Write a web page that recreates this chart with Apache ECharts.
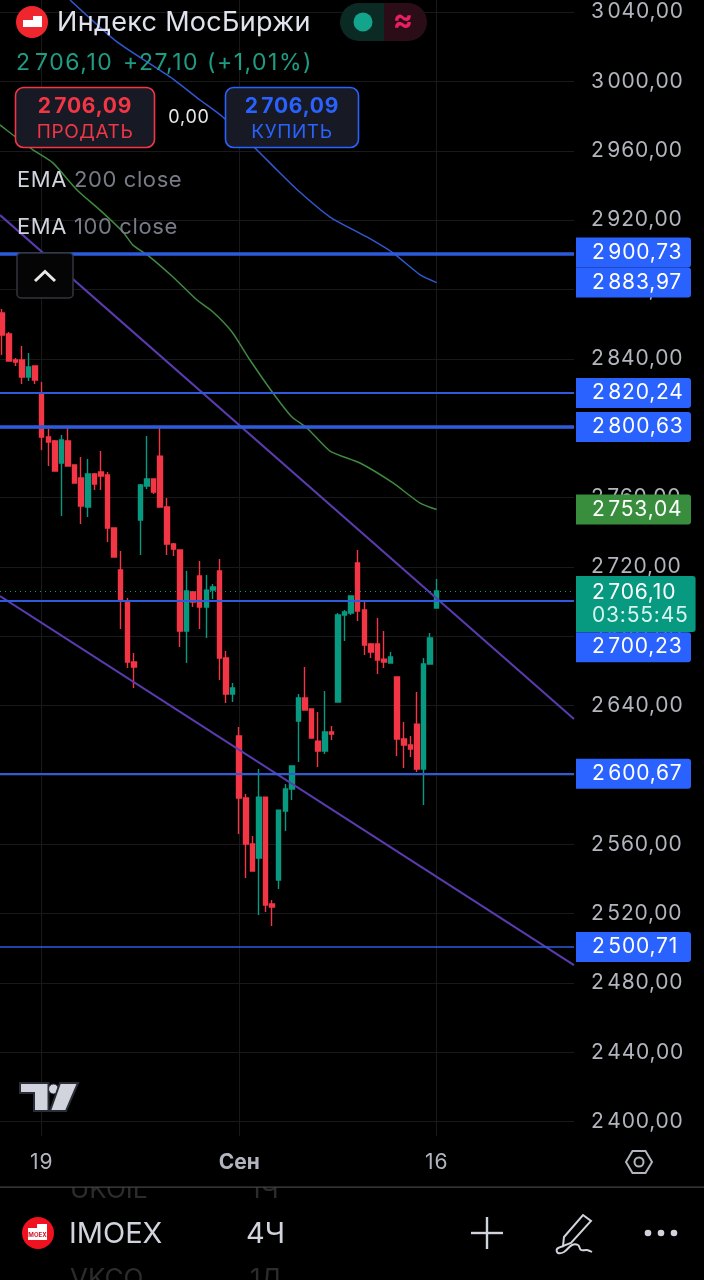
<!DOCTYPE html>
<html><head><meta charset="utf-8">
<style>html,body{margin:0;padding:0;background:#000}#c{width:704px;height:1280px}</style>
<script src="https://cdn.jsdelivr.net/npm/echarts@6/dist/echarts.min.js"></script>
</head><body><div id="c"></div>
<script>
const opens=[2866.4,2854.3,2839.3,2839.3,2829.5,2835.9,2819.7,2794.9,2792.6,2779.9,2792.6,2778.8,2771.3,2754.5,2773.6,2774.7,2773.0,2742.4,2718.2,2700.3,2665.1,2747.0,2766.6,2770.7,2783.9,2754.5,2733.2,2729.7,2683.0,2705.5,2714.7,2696.8,2706.6,2717.6,2667.4,2646.7,2622.4,2586.7,2560.1,2552.1,2587.2,2525.5,2539.4,2579.2,2591.9,2631.1,2644.4,2638.0,2619.5,2613.8,2624.7,2642.0,2692.2,2693.4,2722.2,2695.1,2675.5,2675.5,2666.8,2664.5,2656.5,2620.7,2617.2,2629.3,2603.4,2664.0,2696.3];
const closes=[2853.7,2838.7,2838.2,2829.5,2835.3,2827.8,2794.9,2792.0,2775.3,2793.2,2778.2,2768.4,2755.1,2773.6,2767.8,2772.4,2742.4,2725.7,2700.3,2665.1,2662.2,2767.2,2770.7,2763.2,2754.5,2733.2,2730.3,2683.0,2706.1,2699.7,2696.8,2706.6,2708.4,2667.4,2646.7,2650.1,2586.7,2560.1,2544.6,2587.2,2524.9,2523.8,2579.7,2591.9,2605.1,2644.4,2637.4,2621.3,2613.8,2624.7,2623.6,2692.2,2694.0,2703.2,2694.5,2674.9,2670.9,2666.3,2665.1,2668.0,2620.7,2617.2,2614.9,2603.4,2664.0,2679.0,2706.1];
const lows=[2842.2,2838.7,2835.9,2825.5,2827.2,2825.5,2787.4,2778.2,2775.3,2749.3,2778.2,2768.4,2744.7,2748.8,2764.3,2764.3,2734.3,2725.7,2684.2,2661.7,2650.1,2726.8,2764.9,2762.0,2754.5,2726.8,2726.3,2673.8,2664.5,2696.8,2684.2,2679.0,2701.5,2654.7,2641.5,2642.0,2565.9,2540.5,2544.6,2519.2,2520.9,2512.8,2534.2,2567.6,2585.5,2607.4,2637.4,2621.3,2604.5,2612.0,2620.1,2642.0,2677.2,2692.2,2688.8,2669.2,2667.4,2658.2,2661.7,2664.5,2610.9,2604.0,2610.3,2601.7,2582.6,2664.0,2696.3];
const highs=[2868.7,2855.5,2840.5,2847.4,2843.4,2835.9,2826.6,2799.5,2793.2,2796.1,2800.1,2778.8,2783.4,2782.2,2774.1,2786.8,2774.7,2742.4,2729.1,2702.0,2670.3,2767.8,2795.5,2770.7,2800.1,2759.7,2733.8,2729.7,2717.6,2706.1,2723.4,2715.3,2710.1,2724.5,2671.5,2653.0,2627.6,2589.0,2564.7,2603.4,2587.2,2527.8,2579.7,2594.7,2605.1,2646.7,2662.2,2638.0,2636.3,2648.4,2628.2,2693.4,2695.1,2703.2,2729.7,2700.3,2676.1,2690.5,2683.0,2670.9,2656.5,2630.5,2622.4,2647.8,2667.4,2681.8,2713.0];
const ema200Bars=[10.3,17.44,25.5,30.05,33.5,38.7,41.75,45.2,49.8,55.4,59.4,63.5,66];
const ema200Vals=[3047,3022.8,3002.6,2989.3,2979.5,2960.5,2948.9,2936.2,2921.8,2910.3,2901.0,2888.4,2883.97];
const ema100Bars=[-0.33,1.64,4.68,7.7,11.36,14.86,18.35,19.87,22.45,25.94,29.59,32.02,34.91,37.64,41.13,44.02,46.3,49.8,54.35,59.37,63.47,66];
const ema100Vals=[2974.9,2969.1,2960.5,2953.0,2937.4,2925.8,2913.2,2905.6,2898.7,2887.2,2873.9,2867.0,2855.5,2839.3,2820.3,2806.4,2800.1,2786.8,2779.9,2768.4,2756.8,2753.04];
const trendUpperBars=[-0.33,86.86];
const trendUpperVals=[2922.9,2632.2];
const trendLowerBars=[-0.33,86.86];
const trendLowerVals=[2703.2,2490.3];
const levels=[2900.73,2820.24,2800.63,2700.23,2600.67,2500.71];
const lastEmaValues=[2883.97,2753.04];
const lastPrice=2706.10;
const countdown="03:55:45";
const priceTicks=[2400,2440,2480,2520,2560,2600,2640,2680,2720,2760,2800,2840,2880,2920,2960,3000,3040];
const timeTickBars=[6,36,66];
const timeTickLabels=["19","Сен","16"];

// Tracking for the app's wide-set fonts: canvas letterSpacing, applied to the marked families only.
const fontProp=Object.getOwnPropertyDescriptor(CanvasRenderingContext2D.prototype,'font');
Object.defineProperty(CanvasRenderingContext2D.prototype,'font',{get(){return fontProp.get.call(this);},
  set(v){fontProp.set.call(this,v);
    const m=/(\d+(?:\.\d+)?)px/.exec(v),s=m?+m[1]:12;
    this.letterSpacing=/Noto Sans/.test(v)?(s>=23?'1.5px':'0.8px'):(/Lato/.test(v)?(s>=27?'0.3px':'0.6px'):'0px');}});

const BLUE='#2962ff',GREEN='#089981',RED='#f23645',LINE='#2e5bdc';
const F='Inter';
const NUM='Inter, "Noto Sans"';
const LBL='Inter, Lato';
const fmt=v=>{const s=v.toFixed(2).replace('.',',');return s[0]+'\u200a'+s.slice(1);};
const pair=(a,b)=>a.map((x,i)=>[x,b[i]]);
const levelWidth={2900.73:3.5,2800.63:3.5,2820.24:2,2700.23:2,2600.67:2,2500.71:1.5};
const tagOffset={2900.73:[0,-1],2700.23:[0,46]};
const tag=(bg,extra)=>Object.assign({show:true,position:'end',distance:2,color:'#fff',fontFamily:NUM,fontSize:21,lineHeight:20,width:89,
  backgroundColor:bg,borderRadius:[0,3,3,0],padding:[5,10,5,16],formatter:p=>fmt(p.value)},extra||{});
const levelData=levels.map(v=>({yAxis:v,lineStyle:{color:LINE,width:levelWidth[v],type:'solid'},
  label:tag(BLUE,{offset:tagOffset[v]||[0,0]})}));
const tagLine={color:'rgba(0,0,0,0)',width:1,type:'solid'};
levelData.push({yAxis:lastEmaValues[0],lineStyle:tagLine,label:tag(BLUE)});
levelData.push({yAxis:lastEmaValues[1],lineStyle:tagLine,label:tag('#388e3c')});
levelData.push({yAxis:lastPrice,lineStyle:{color:GREEN,width:1.2,type:[1,4]},
  label:{show:true,position:'end',distance:2,offset:[0,13],backgroundColor:GREEN,borderRadius:[0,3,3,0],padding:[5,7,5,16],
    formatter:p=>'{a|'+fmt(p.value)+'}\n{b|'+countdown+'}',
    rich:{a:{color:'#fff',fontFamily:NUM,fontSize:21,lineHeight:23},b:{color:'#d5f5ee',fontFamily:NUM,fontSize:21,lineHeight:23}}}});
const lineSeries=(d,color,w,smooth)=>({type:'line',data:d,symbol:'none',silent:true,smooth:smooth||false,lineStyle:{color,width:w},z:3});

const txt=(text,x,y,fill,size,weight,align,fam)=>({type:'text',z:100,style:{text,x,y:y+1,fill,font:(weight||400)+' '+size+'px '+(fam||LBL),textAlign:align||'left',textVerticalAlign:'middle'}});
const rect=(x,y,w,h,fill,stroke,r,lw,z)=>({type:'rect',z:z||100,shape:{x,y,width:w,height:h,r:r||0},style:{fill,stroke:stroke||null,lineWidth:lw||0}});
const gfx=[
 {type:'circle',z:100,shape:{cx:32,cy:22,r:16},style:{fill:'#f0262e'}},
 {type:'polygon',z:101,shape:{points:[[23,20],[33,20],[33,16],[42,16],[42,27],[23,27]]},style:{fill:'#fff'}},
 txt('Индекс МосБиржи',57,22,'#e0e3eb',27),
 rect(340,3,44,38,'#0b2a24',null,[19,0,0,19]),
 rect(384,3,43,38,'#2b0d18',null,[0,19,19,0]),
 {type:'circle',z:101,shape:{cx:363,cy:22,r:9.5},style:{fill:'#12a58c'}},
 txt('≈',403,20,'#e91e63',30,700,'center',F),
 txt(fmt(lastPrice),16,62,'#1f9d84',23,400,'left',NUM),
 txt('+27,10 (+1,01%)',123,62,'#1f9d84',23,400,'left',NUM),
 rect(15.5,87.5,139,60,'#171a24',RED,8,1.6),
 txt('2\u200a706,09',85,106,RED,21,700,'center',NUM),
 txt('ПРОДАТЬ',85,131,RED,19,400,'center'),
 txt('0,00',189,116.5,'#e8e8e8',18,400,'center',NUM),
 rect(225.5,87.5,133,60,'#171a24',BLUE,8,1.6),
 txt('2\u200a706,09',292,106,BLUE,21,700,'center',NUM),
 txt('КУПИТЬ',292,131,BLUE,19,400,'center'),
 txt('EMA',17,179,'#d1d4dc',22),
 txt('200 close',74,179,'#787b86',22),
 txt('EMA',17,226,'#d1d4dc',22),
 txt('100 close',74,226,'#787b86',22),
 rect(17,253,56,45,'#050505','#33363e',4,1.5),
 {type:'polyline',z:101,shape:{points:[[35,281],[45,271.5],[55,281]]},style:{fill:null,stroke:'#e8e8e8',lineWidth:3}},
 {type:'polygon',z:100,shape:{points:[[20,1083],[48.5,1083],[48.5,1111],[34,1111],[34,1093],[20,1093]]},style:{fill:'#d1d4dc',stroke:'#2a2e39',lineWidth:2}},
 {type:'circle',z:100,shape:{cx:53.5,cy:1089,r:5},style:{fill:'#d1d4dc',stroke:'#2a2e39',lineWidth:1}},
 {type:'polygon',z:100,shape:{points:[[60,1083],[78,1083],[66,1111],[50,1111]]},style:{fill:'#d1d4dc',stroke:'#2a2e39',lineWidth:2}},
 {type:'polygon',z:100,shape:{points:[[626,1162],[632.5,1151],[645.5,1151],[652,1162],[645.5,1173],[632.5,1173]]},style:{fill:null,stroke:'#b2b5be',lineWidth:2}},
 {type:'circle',z:100,shape:{cx:639,cy:1162,r:4.5},style:{fill:null,stroke:'#b2b5be',lineWidth:2}},
 txt('UKOIL',70,1189,'#2c2c2c',26,400,'left',F),
 txt('1Ч',250,1189,'#2c2c2c',26,400,'left',F),
 rect(0,1175,704,12,'#000',null,0,0,101),
 rect(0,1186.5,704,1.2,'#454545',null,0,0,102),
 txt('VKCO',70,1278,'#2c2c2c',26,400,'left',F),
 txt('1Д',250,1278,'#2c2c2c',26,400,'left',F),
 {type:'circle',z:100,shape:{cx:38,cy:1233,r:16},style:{fill:'#f0121e'}},
 {type:'polygon',z:101,shape:{points:[[28,1228],[37,1228],[37,1224],[47,1224],[47,1240],[28,1240]]},style:{fill:'#fff'}},
 {type:'text',z:102,style:{text:'MOEX',x:37.5,y:1235,fill:'#d01020',font:'700 6px '+F,textAlign:'center',textVerticalAlign:'middle'}},
 txt('IMOEX',69,1233,'#d1d4dc',29,400,'left',F),
 txt('4Ч',246,1233,'#d1d4dc',29,400,'left',F),
 {type:'line',z:100,shape:{x1:471,y1:1233,x2:503,y2:1233},style:{stroke:'#d1d4dc',lineWidth:2.4}},
 {type:'line',z:100,shape:{x1:487,y1:1217,x2:487,y2:1249},style:{stroke:'#d1d4dc',lineWidth:2.4}},
 {type:'polygon',z:100,shape:{points:[[583,1215],[591,1221],[571,1243],[563,1246],[564,1237]]},style:{fill:null,stroke:'#d1d4dc',lineWidth:2}},
 {type:'polyline',z:100,shape:{points:[[564,1246],[557,1249],[558,1253],[564,1252],[572,1245],[578,1245],[581,1250],[587,1250],[592,1252]],smooth:0.4},style:{fill:null,stroke:'#d1d4dc',lineWidth:2}},
 {type:'circle',z:100,shape:{cx:648,cy:1233,r:3.3},style:{fill:'#d1d4dc'}},
 {type:'circle',z:100,shape:{cx:661,cy:1233,r:3.3},style:{fill:'#d1d4dc'}},
 {type:'circle',z:100,shape:{cx:674,cy:1233,r:3.3},style:{fill:'#d1d4dc'}}
];

const chart=echarts.init(document.getElementById('c'),null,{renderer:'canvas'});
const GRIDC='#191919';
chart.setOption({
 animation:false,backgroundColor:'#000',
 grid:{left:0,top:0,width:574,height:1136,containLabel:false},
 xAxis:{type:'value',min:-0.334,max:86.86,
   axisLine:{show:false},axisTick:{show:false,customValues:timeTickBars},
   splitLine:{show:true,lineStyle:{color:GRIDC,width:1}},
   axisLabel:{customValues:timeTickBars,margin:16,fontFamily:NUM,fontSize:21,color:'#b2b5be',hideOverlap:false,showMinLabel:true,showMaxLabel:true,
     formatter:v=>{const t=timeTickLabels[timeTickBars.indexOf(v)];return t==='Сен'?'{b|'+t+'}':t;},
     rich:{b:{fontFamily:F,fontSize:21,fontWeight:700,color:'#b2b5be'}}}},
 yAxis:{type:'value',position:'right',min:2391.7,max:3046.98,scale:true,
   axisLine:{show:false},axisTick:{show:false,customValues:priceTicks},
   splitLine:{show:true,lineStyle:{color:GRIDC,width:1}},
   axisLabel:{customValues:priceTicks,margin:17,fontFamily:NUM,fontSize:21,color:'#b2b5be',formatter:v=>fmt(v)}},
 series:[
  {type:'candlestick',silent:true,barWidth:5,z:2,
   data:opens.map((o,i)=>[i,o,closes[i],lows[i],highs[i]]),
   itemStyle:{color:GREEN,color0:RED,borderColor:GREEN,borderColor0:RED,borderWidth:1.4},
   markLine:{silent:true,symbol:'none',animation:false,data:levelData}},
  lineSeries(pair(ema200Bars,ema200Vals),'#3058d0',1.5,0.2),
  lineSeries(pair(ema100Bars,ema100Vals),'#3f8a40',1.5,0.2),
  lineSeries(pair(trendUpperBars,trendUpperVals),'#5a3bb0',2),
  lineSeries(pair(trendLowerBars,trendLowerVals),'#5a3bb0',2)
 ],
 graphic:{elements:gfx}
});
</script></body></html>
